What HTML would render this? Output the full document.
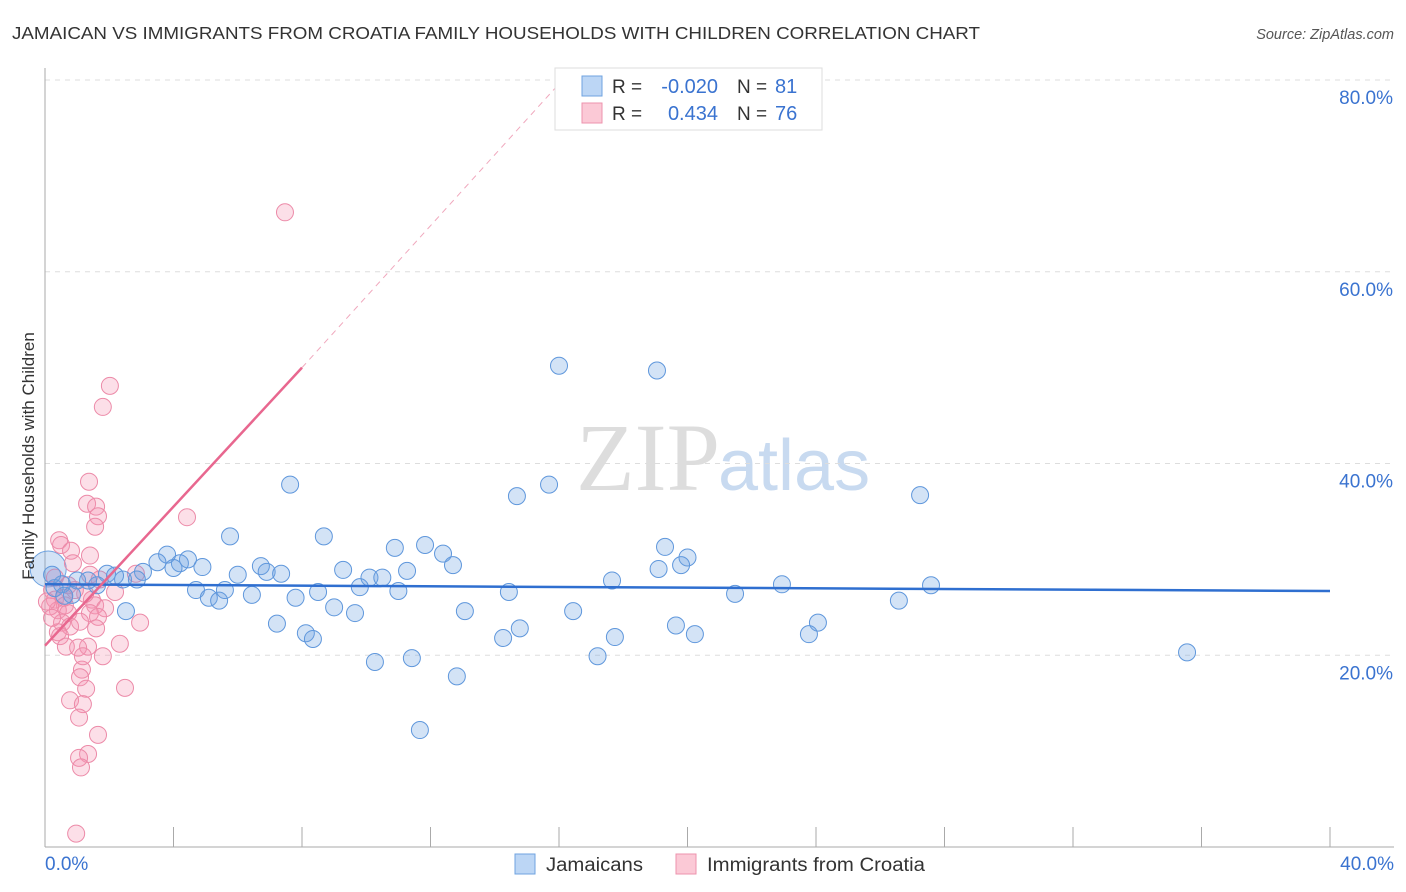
<!DOCTYPE html>
<html><head><meta charset="utf-8"><style>
body{margin:0;background:#fff;font-family:"Liberation Sans",sans-serif;}
svg{display:block}
</style></head><body>
<svg id="c" width="1406" height="892" xmlns="http://www.w3.org/2000/svg">
<text x="12" y="39" font-size="17.5" fill="#333" textLength="968" lengthAdjust="spacingAndGlyphs">JAMAICAN VS IMMIGRANTS FROM CROATIA FAMILY HOUSEHOLDS WITH CHILDREN CORRELATION CHART</text>
<text x="1394" y="39" font-size="14.5" fill="#555" font-style="italic" text-anchor="end">Source: ZipAtlas.com</text>
<text x="720" y="490" font-size="96" fill="#ddd" font-family="Liberation Serif,serif" text-anchor="end">ZIP</text>
<text x="718" y="490" font-size="72" fill="#c8daf0">atlas</text>
<g id="grid"></g>
<g id="axes"></g>
<g id="pts"></g>
<g id="trend"></g>
<text transform="translate(34,456) rotate(-90)" font-size="17" fill="#333" text-anchor="middle">Family Households with Children</text>
<g>
<rect x="555" y="68" width="267" height="62" fill="#fff" stroke="#ddd"/>
<rect x="582" y="76" width="20" height="20" fill="#bcd6f5" stroke="#6fa3e0"/>
<rect x="582" y="103" width="20" height="20" fill="#fbc9d6" stroke="#ee93ad"/>
<text x="612" y="93" font-size="19" fill="#333">R =</text>
<text x="718" y="93" font-size="20" fill="#3a73d0" text-anchor="end">-0.020</text>
<text x="737" y="93" font-size="19" fill="#333">N =</text>
<text x="775" y="93" font-size="20" fill="#3a73d0">81</text>
<text x="612" y="120" font-size="19" fill="#333">R =</text>
<text x="718" y="120" font-size="20" fill="#3a73d0" text-anchor="end">0.434</text>
<text x="737" y="120" font-size="19" fill="#333">N =</text>
<text x="775" y="120" font-size="20" fill="#3a73d0">76</text>
</g>
<g>
<rect x="515" y="854" width="20" height="20" fill="#bcd6f5" stroke="#6fa3e0"/>
<text x="546" y="871" font-size="19" fill="#333" textLength="97" lengthAdjust="spacingAndGlyphs">Jamaicans</text>
<rect x="676" y="854" width="20" height="20" fill="#fbc9d6" stroke="#ee93ad"/>
<text x="707" y="871" font-size="19" fill="#333" textLength="218" lengthAdjust="spacingAndGlyphs">Immigrants from Croatia</text>
</g>
</svg>
<script>
const yTicks=[20,40,60,80];
const xTickLabels=["0.0%","40.0%"];
const blueX=[16.0,19.05,7.63,14.69,15.69,27.24,5.76,8.68,10.89,11.83,12.39,12.7,19.3,20.0,19.8,19.1,3.8,3.5,4.45,4.2,4.0,4.9,3.05,6.72,6.0,6.9,7.35,9.28,10.1,10.5,11.27,9.8,11.0,14.44,17.65,22.94,27.58,21.48,26.58,2.43,1.93,2.18,2.86,1.62,1.34,0.53,0.22,0.84,4.7,5.1,5.42,5.6,6.44,7.8,8.5,9.0,9.65,2.52,13.07,16.44,24.06,23.78,19.64,20.23,17.74,14.78,14.26,8.12,8.34,7.22,17.2,10.27,11.42,12.82,11.67,35.55,0.3,1.0,0.6];
const blueY=[50.2,49.7,37.8,36.6,37.8,36.7,32.4,32.4,31.2,31.5,30.6,29.4,31.3,30.2,29.4,29.0,30.5,29.7,30.0,29.6,29.1,29.2,28.7,29.3,28.4,28.7,28.5,28.9,28.1,28.1,28.8,27.1,26.7,26.6,27.8,27.4,27.3,26.4,25.7,27.9,28.5,28.3,27.9,27.3,27.8,27.4,28.4,26.3,26.8,26.0,25.7,26.8,26.3,26.0,26.6,25.0,24.4,24.6,24.6,24.6,23.4,22.2,23.1,22.2,21.9,22.8,21.8,22.3,21.7,23.3,19.9,19.3,19.7,17.8,12.2,20.3,27.0,27.8,26.2];
const pinkX=[7.47,2.02,1.8,1.37,1.31,1.59,1.65,1.56,4.42,0.44,0.5,0.81,1.4,0.87,1.4,2.83,0.31,0.22,0.31,0.62,0.4,0.72,1.46,1.56,1.87,1.4,1.65,0.53,0.78,0.4,1.59,0.47,1.34,0.65,1.03,2.33,2.96,1.8,1.15,1.18,1.09,1.28,2.49,0.78,1.18,1.06,1.65,1.34,1.06,1.12,0.97,1.25,0.93,0.59,0.16,0.06,0.22,2.18,1.7,0.72,1.09];
const pinkY=[66.2,48.1,45.9,38.1,35.8,35.5,34.5,33.4,34.4,32.0,31.5,30.9,30.4,29.6,28.4,28.5,28.1,26.8,25.8,25.2,24.7,24.4,25.8,25.2,24.9,24.4,24.0,23.4,23.0,22.4,22.8,22.0,20.9,20.9,20.8,21.2,23.4,19.9,18.5,19.9,17.7,16.5,16.6,15.3,14.9,13.5,11.7,9.7,9.3,8.3,1.4,26.4,26.8,26.0,25.1,25.6,23.9,26.6,27.9,27.3,23.5];
const blueTrend=[[0,27.4],[40,26.7]];
const pinkTrend=[[0,21.0],[8.0,50.0]];
const pinkDash=[[8.0,50.0],[16.0,79.6]];
const NS="http://www.w3.org/2000/svg";
const X0=45,X1=1330,Y0=847,Y80=80;
const sx=v=>X0+(v/40)*(X1-X0);
const sy=v=>Y0-(v/80)*(Y0-Y80);
function mk(tag,attrs,parent){const e=document.createElementNS(NS,tag);for(const k in attrs)e.setAttribute(k,attrs[k]);document.getElementById(parent).appendChild(e);return e;}
yTicks.forEach(t=>{
 const l=mk('line',{x1:X0,x2:1394,y1:sy(t),y2:sy(t),stroke:'#ddd','stroke-dasharray':'5,5'},'grid');
 
 
 const tx=mk('text',{x:1393,y:sy(t)+24,'font-size':19,fill:'#3a73d0','text-anchor':'end'},'grid');
 tx.textContent=t.toFixed(1)+'%';
 
 
});
const ax=mk('line',{x1:X0,x2:X0,y1:68,y2:Y0,stroke:'#aaa'},'axes');


const bx=mk('line',{x1:X0,x2:1394,y1:Y0,y2:Y0,stroke:'#aaa'},'axes');


for(let i=1;i<=10;i++){const t=mk('line',{x1:sx(i*4),x2:sx(i*4),y1:827,y2:Y0,stroke:'#aaa'},'axes');
 
 }
[[0,'start',45],[40,'end',1394]].forEach((d,i)=>{const t=mk('text',{x:d[2],y:870,'font-size':19,fill:'#3a73d0','text-anchor':d[1]},'axes');t.textContent=xTickLabels[i];
 
 });
const big=mk('circle',{cx:sx(0.1),cy:sy(29.0),r:18,fill:'rgba(110,163,226,0.3)',stroke:'#6fa3e0','stroke-width':1},'pts');


pinkX.forEach((v,i)=>{const c=mk('circle',{cx:sx(v),cy:sy(pinkY[i]),r:8.5,fill:'rgba(244,150,178,0.3)',stroke:'#ec8aa8','stroke-width':1},'pts');
 
 });
blueX.forEach((v,i)=>{const c=mk('circle',{cx:sx(v),cy:sy(blueY[i]),r:8.5,fill:'rgba(110,163,226,0.3)',stroke:'#5f97dc','stroke-width':1},'pts');
 
 });
const bt=mk('line',{x1:sx(blueTrend[0][0]),y1:sy(blueTrend[0][1]),x2:sx(blueTrend[1][0]),y2:sy(blueTrend[1][1]),stroke:'#2f6fd0','stroke-width':2.5},'trend');


const pt=mk('line',{x1:sx(pinkTrend[0][0]),y1:sy(pinkTrend[0][1]),x2:sx(pinkTrend[1][0]),y2:sy(pinkTrend[1][1]),stroke:'#e8678f','stroke-width':2.5},'trend');


const pd=mk('line',{x1:sx(pinkDash[0][0]),y1:sy(pinkDash[0][1]),x2:sx(pinkDash[1][0]),y2:sy(pinkDash[1][1]),stroke:'#f0a8bd','stroke-width':1,'stroke-dasharray':'6,5'},'trend');


</script>
</body></html>
